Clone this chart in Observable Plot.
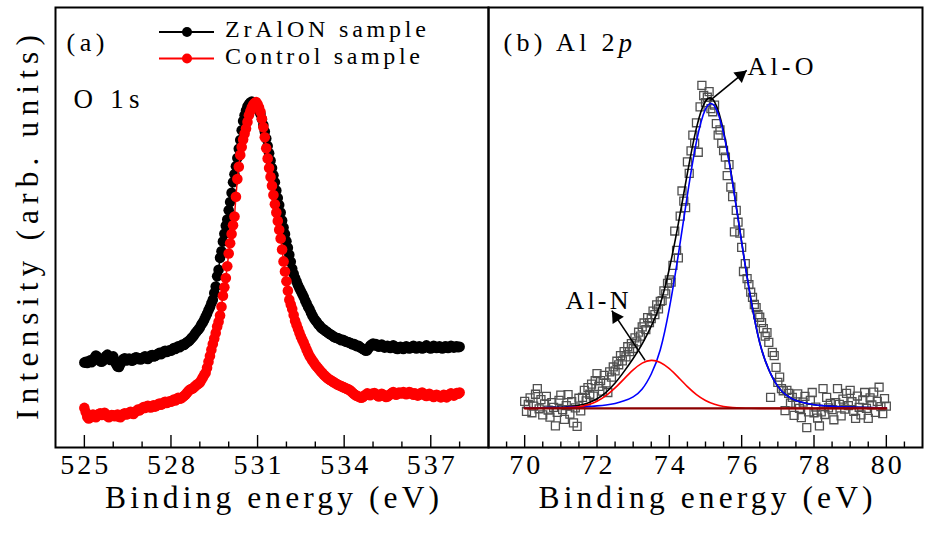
<!DOCTYPE html>
<html><head><meta charset="utf-8">
<script src="https://cdn.jsdelivr.net/npm/d3@7"></script>
<script src="https://cdn.jsdelivr.net/npm/@observablehq/plot@0.6"></script>
<style>
body{margin:0;background:#fff;}
#chart{position:relative;width:930px;height:534px;overflow:hidden;background:#fff;}
#chart svg{position:absolute;top:0;}
</style></head><body><div id="chart"></div>
<script>
// ---------- (a) O 1s ----------
const o1sStart = 525, o1sStep = 0.05;
const zrAlONSample = [
19.3,19.5,19.2,19.6,19.8,19.4,19.7,20.4,20.9,20.6,20.1,19.6,19.5,19.8,20.3,20.8,21.1,20.5,19.9,20.4,
20.7,19.6,18.9,18.4,18.3,19.0,19.7,20.1,20.3,19.8,19.9,20.2,20.0,19.7,19.9,20.4,20.5,20.1,20.3,20.0,
20.2,20.5,20.7,20.3,20.1,20.5,20.9,21.0,20.7,20.8,21.0,21.3,21.5,21.2,21.4,21.8,22.0,21.7,21.9,22.1,
22.0,22.3,22.6,22.4,22.7,23.0,22.8,23.1,23.4,23.3,23.6,23.9,24.1,24.4,24.8,25.1,25.5,26.0,26.4,26.8,
27.3,27.9,28.4,29.0,29.7,30.4,31.2,31.9,32.8,33.6,35.1,36.6,38.9,40.4,43.1,44.6,46.8,48.6,50.4,51.8,
53.9,55.8,57.9,60.3,62.1,63.9,65.8,67.9,69.9,72.1,74.2,75.5,76.6,77.5,78.0,78.4,78.6,78.3,78.0,77.6,
77.1,76.6,75.8,74.6,73.3,71.8,70.2,68.5,66.9,65.2,63.5,61.9,60.3,58.4,56.7,55.1,53.4,51.6,50.0,48.5,
46.9,45.4,43.8,42.2,40.6,39.5,38.5,37.7,36.9,36.2,35.5,34.9,34.2,33.4,32.7,32.0,31.4,30.7,30.0,29.4,
28.9,28.5,28.0,27.7,27.3,27.0,26.8,26.5,26.3,26.0,25.8,25.6,25.4,25.1,25.0,24.9,24.8,24.6,24.4,24.5,
24.3,24.1,24.0,23.9,23.8,23.6,23.4,23.5,23.2,23.0,23.1,22.8,22.6,22.4,22.2,22.0,22.1,22.6,23.1,23.4,
23.6,23.2,23.5,23.3,22.9,23.2,23.4,23.0,22.7,22.9,23.1,22.8,22.6,22.9,23.2,23.0,22.5,22.4,22.7,22.9,
22.6,22.4,22.7,23.0,22.8,22.5,22.6,22.9,23.1,22.7,22.5,22.8,23.0,22.7,22.5,22.6,22.9,23.2,22.9,22.6,
22.5,22.8,23.1,22.9,22.6,22.7,23.0,22.8,22.5,22.7,23.0,22.9,22.6,22.8,23.1,22.9,22.7,22.9,23.0,22.8,
22.9];
const controlSample = [
9.0,8.0,7.0,6.6,6.8,7.2,7.5,7.1,6.9,7.3,7.6,7.8,7.4,7.6,7.9,7.5,7.1,6.9,7.2,7.4,
7.3,7.1,7.2,7.5,7.0,6.9,7.3,7.6,7.8,7.5,7.6,7.9,8.1,7.8,7.6,8.0,8.3,8.6,8.4,8.7,
8.9,9.2,9.0,9.3,9.5,9.2,9.1,9.4,9.6,9.3,9.5,9.8,10.0,9.7,9.9,10.2,10.4,10.1,10.3,10.5,
10.4,10.6,10.9,10.7,11.0,11.3,11.1,11.2,11.4,11.7,12.0,12.4,12.8,13.1,13.3,13.4,13.7,14.0,14.3,14.5,
14.8,15.3,15.9,16.5,17.0,18.1,19.5,20.8,22.2,23.5,24.8,26.0,27.5,28.6,30.0,32.0,34.5,36.4,38.5,41.2,
44.1,46.4,48.5,50.5,52.5,57.0,61.0,63.8,66.5,68.3,70.0,71.3,72.5,74.0,75.5,76.4,77.3,77.9,78.3,78.5,
78.0,77.3,76.3,74.7,72.8,70.5,68.0,65.7,63.5,61.5,59.5,57.4,55.3,53.4,51.5,49.5,47.5,45.0,42.3,40.0,
37.8,35.6,33.6,32.5,31.5,30.1,28.8,27.9,27.0,26.1,25.2,24.5,23.8,23.0,22.2,21.5,20.8,20.3,19.8,19.3,
18.8,18.4,18.0,17.6,17.2,16.9,16.5,16.2,15.9,15.6,15.4,15.2,15.0,14.8,14.6,14.4,14.2,14.1,13.9,13.8,
13.6,13.5,13.3,13.2,13.0,12.7,12.4,12.1,11.9,11.7,11.6,11.4,11.3,11.5,11.8,12.0,12.3,12.1,11.9,12.2,
12.2,12.4,12.1,11.8,11.6,11.9,12.2,12.0,11.7,11.5,11.6,11.9,12.1,12.4,12.6,12.3,12.0,12.2,12.5,12.4,
12.3,12.6,12.4,12.1,12.3,12.6,12.5,12.2,12.0,12.3,12.1,11.8,12.0,12.3,12.5,12.2,11.9,11.7,12.0,12.2,
11.9,11.7,11.5,11.8,12.0,11.8,11.6,11.4,11.7,12.0,11.6,11.4,11.7,12.1,12.3,12.0,11.8,12.1,12.4,12.2,
12.5];
const o1sMajorTicks = [525, 528, 531, 534, 537];
const o1sMinorTicks = [526, 527, 529, 530, 532, 533, 535, 536, 538];
const legendItems = [{label: "ZrAlON sample", color: "#000000"}, {label: "Control sample", color: "#ff0000"}];

// ---------- (b) Al 2p ----------
const al2pStart = 70, al2pStep = 0.05;
const al2pMeasured = [
10.5,8.2,9.8,11.3,7.9,9.4,12.1,13.4,8.8,10.9,7.4,9.9,11.6,8.5,6.9,10.2,9.1,4.9,8.0,10.7,
11.9,8.6,6.4,9.5,12.0,7.6,10.4,5.6,9.0,4.8,11.2,8.3,11.4,13.0,10.6,13.6,12.1,14.4,11.7,15.2,
16.8,13.9,15.2,12.8,16.4,14.7,12.5,17.2,16.0,18.3,17.4,19.6,18.8,20.9,19.7,21.8,20.6,22.9,21.8,23.6,
22.5,24.9,24.0,26.2,25.3,27.4,28.3,26.8,29.5,28.4,29.3,31.0,30.2,32.4,31.5,33.2,33.4,35.6,34.9,37.3,
38.1,37.6,41.4,49.2,44.8,43.1,52.6,58.3,56.0,54.5,64.9,62.3,67.4,71.0,69.2,73.8,67.1,77.4,82.3,80.0,
78.4,79.6,80.9,77.0,76.3,77.8,73.6,71.0,72.2,69.1,67.5,66.0,61.8,64.3,59.2,57.0,49.0,53.9,51.2,48.7,
45.5,40.0,41.8,38.4,37.0,35.3,34.1,32.5,31.8,30.2,29.6,28.4,27.0,25.3,26.1,23.9,11.4,21.6,20.9,18.2,
14.8,16.0,13.4,12.9,8.4,13.0,12.3,10.1,11.4,7.3,9.8,12.2,8.9,6.8,10.3,11.6,4.5,8.1,10.7,12.5,
7.9,9.2,6.7,4.9,8.1,13.4,7.5,11.4,9.0,10.0,8.6,6.3,10.2,13.4,9.8,7.2,11.0,8.7,12.3,9.5,
13.0,10.4,8.2,6.6,11.7,9.1,7.4,10.8,12.5,8.9,6.6,11.3,9.7,12.6,8.0,10.5,13.7,9.3,7.7,11.1,
9.4];
const fitStart = 70, fitStep = 0.25;
const fitEnvelope = [9.0,9.02,9.05,9.09,9.16,9.33,9.61,10.13,11.08,12.55,14.64,17.3,20.23,23.57,27.6,32.64,40.62,50.93,62.35,72.64,78.7,78.53,71.83,60.28,46.67,33.92,23.8,17.7,13.9,11.8,10.7,10.1,9.7,9.5,9.35,9.25,9.18,9.12,9.08,9.05,9.02];
const fitAlO = [9.0,9.02,9.04,9.07,9.1,9.17,9.23,9.3,9.45,9.65,10.0,10.6,11.5,13.3,16.7,22.2,31.6,43.9,57.4,69.5,76.9,77.6,71.4,60.1,46.6,33.9,23.8,17.7,13.9,11.8,10.7,10.1,9.7,9.5,9.35,9.25,9.18,9.12,9.08,9.05,9.02];
const fitAlN = [8.9,8.9,8.91,8.92,8.96,9.06,9.28,9.73,10.53,11.8,13.54,15.6,17.63,19.17,19.8,19.34,17.92,15.93,13.85,12.04,10.7,9.83,9.33,9.08,8.97,8.92,8.9,8.9,8.9,8.9,8.9,8.9,8.9,8.9,8.9,8.9,8.9,8.9,8.9,8.9,8.9];
const backgroundEnergies = [70, 80];
const backgroundLevel = [8.9, 8.9];
const al2pMajorTicks = [70, 72, 74, 76, 78, 80];
const al2pMinorTicks = [69.5,70.5,71,71.5,72.5,73,73.5,74.5,75,75.5,76.5,77,77.5,78.5,79,79.5,80.5];
const peakArrows = [
  {label: "Al-O", x1: 75.13, y1: 78.9, x2: 76.14, y2: 85.7},
  {label: "Al-N", x1: 73.33, y1: 19.8, x2: 72.41, y2: 31.1}
];

const xTitle = "Binding energy (eV)";
const yTitle = "Intensity (arb. units)";

// ---------- style ----------
const FONT = "'Liberation Serif', 'Times New Roman', serif";
const textWidths = {
  "Binding energy (eV)": 334, "Intensity (arb. units)": 385,
  "525": 48, "528": 48, "531": 48, "534": 48, "537": 48,
  "70": 31, "72": 31, "74": 31, "76": 31, "78": 31, "80": 31,
  "(a)": 38, "O 1s": 66, "(b) Al 2": 111, "Al-O": 66, "Al-N": 63,
  "ZrAlON sample": 201, "Control sample": 195
};
const H = 534, MT = 7, MB = 87, PH = H - MT - MB;

const series = (start, step, values, extra = {}) =>
  values.map((v, i) => ({energy: +(start + i * step).toFixed(3), intensity: v, ...extra}));

const zrRows = series(o1sStart, o1sStep, zrAlONSample);
const ctrlRows = series(o1sStart, o1sStep, controlSample);
const measRows = series(al2pStart, al2pStep, al2pMeasured);
const envRows = series(fitStart, fitStep, fitEnvelope);
const aloRows = series(fitStart, fitStep, fitAlO);
const alnRows = series(fitStart, fitStep, fitAlN);
const bgRows = backgroundEnergies.map((e, i) => ({energy: e, intensity: backgroundLevel[i]}));

const tickMarks = (major, minor, labels) => [
  Plot.ruleX(major, {x: d => d, insetTop: PH - 12, stroke: "#000", strokeWidth: 1.4}),
  Plot.ruleX(minor, {x: d => d, insetTop: PH - 5.5, stroke: "#000", strokeWidth: 1.4}),
  Plot.axisX(labels, {tickSize: 0, tickPadding: 7, fontSize: 28, fontFamily: FONT, tickFormat: d => String(d), label: null})
];

const left = Plot.plot({
  width: 490, height: H, marginLeft: 55, marginRight: 2, marginTop: MT, marginBottom: MB,
  x: {domain: [524, 539], axis: null, label: null},
  y: {domain: [0, 100], axis: null, label: null},
  style: {fontFamily: FONT, background: "transparent", overflow: "visible", color: "#000"},
  marks: [
    Plot.line(zrRows, {x: "energy", y: "intensity", stroke: "#000", strokeWidth: 1.5}),
    Plot.dot(zrRows, {x: "energy", y: "intensity", r: 5.3, fill: "#000"}),
    Plot.line(ctrlRows, {x: "energy", y: "intensity", stroke: "#ff0000", strokeWidth: 1.5}),
    Plot.dot(ctrlRows, {x: "energy", y: "intensity", r: 5.3, fill: "#ff0000"}),
    ...tickMarks(o1sMajorTicks, o1sMinorTicks, o1sMajorTicks),
    Plot.frame({stroke: "#000", strokeWidth: 2}),
    Plot.text([xTitle], {text: d => d, frameAnchor: "bottom", dy: 60, fontSize: 31.5, fontFamily: FONT}),
    Plot.text([yTitle], {text: d => d, frameAnchor: "left", textAnchor: "middle", dx: -28, rotate: -90, fontSize: 31.5, fontFamily: FONT}),
    Plot.text(["(a)"], {text: d => d, frameAnchor: "top-left", textAnchor: "start", dx: 11, dy: 25, fontSize: 26, fontFamily: FONT}),
    Plot.text(["O 1s"], {text: d => d, frameAnchor: "top-left", textAnchor: "start", dx: 18, dy: 81, fontSize: 27, fontFamily: FONT})
  ]
});

const right = Plot.plot({
  width: 450, height: H, marginLeft: 8, marginRight: 8, marginTop: MT, marginBottom: MB,
  x: {domain: [69, 81], axis: null, label: null},
  y: {domain: [0, 100], axis: null, label: null},
  style: {fontFamily: FONT, background: "transparent", overflow: "visible", color: "#000"},
  marks: [
    Plot.dot(measRows, {x: "energy", y: "intensity", symbol: "square", r: 4.5, stroke: "#505050", strokeWidth: 1.3, fill: "none"}),
    Plot.line(envRows, {x: "energy", y: "intensity", curve: "natural", stroke: "#000", strokeWidth: 1.6}),
    Plot.line(aloRows, {x: "energy", y: "intensity", curve: "natural", stroke: "#0000ff", strokeWidth: 1.6}),
    Plot.line(alnRows, {x: "energy", y: "intensity", curve: "natural", stroke: "#ff0000", strokeWidth: 1.6}),
    Plot.line(bgRows, {x: "energy", y: "intensity", stroke: "#8b0000", strokeWidth: 2.2}),
    Plot.link(peakArrows, {x1: "x1", y1: "y1", x2: "x2", y2: "y2", stroke: "#000", strokeWidth: 1.6}),
    Plot.dot(peakArrows.slice(0, 1), {x: "x2", y: "y2", symbol: "triangle", r: 5, fill: "#000", rotate: 51, dx: -6.1, dy: 4.9}),
    Plot.dot(peakArrows.slice(1, 2), {x: "x2", y: "y2", symbol: "triangle", r: 5, fill: "#000", rotate: -33.4, dx: 4.3, dy: 6.5}),
    ...tickMarks(al2pMajorTicks, al2pMinorTicks, al2pMajorTicks),
    Plot.frame({stroke: "#000", strokeWidth: 2}),
    Plot.text([xTitle], {text: d => d, frameAnchor: "bottom", dy: 60, fontSize: 31.5, fontFamily: FONT}),
    Plot.text(["(b) Al 2"], {text: d => d, frameAnchor: "top-left", textAnchor: "start", dx: 15, dy: 25.5, fontSize: 26, fontFamily: FONT}),
    Plot.text(["p"], {text: d => d, frameAnchor: "top-left", textAnchor: "start", dx: 130, dy: 25.5, fontSize: 27, fontStyle: "italic", fontFamily: FONT}),
    Plot.text(["Al-O"], {text: d => d, frameAnchor: "top-left", textAnchor: "start", dx: 259, dy: 49, fontSize: 26, fontFamily: FONT}),
    Plot.text(["Al-N"], {text: d => d, frameAnchor: "top-left", textAnchor: "start", dx: 77, dy: 283.5, fontSize: 26, fontFamily: FONT})
  ]
});

// legend (inside panel a)
const lg = d3.select(left).append("g").attr("font-family", FONT).attr("font-size", 24).attr("text-anchor", "start");
legendItems.forEach((item, i) => {
  const y = 32 + i * 26.5;
  lg.append("line").attr("x1", 159).attr("x2", 214).attr("y1", y).attr("y2", y).attr("stroke", item.color).attr("stroke-width", 2);
  lg.append("circle").attr("cx", 187).attr("cy", y).attr("r", 5).attr("fill", item.color);
  lg.append("text").attr("x", 225).attr("y", y + 5).attr("fill", "#000").attr("text-anchor", "start").text(item.label);
});

for (const svg of [left, right]) {
  d3.select(svg).selectAll("text").each(function () {
    const w = textWidths[this.textContent];
    if (w) { this.setAttribute("textLength", w); this.setAttribute("lengthAdjust", "spacing"); }
  });
}

right.style.left = "480px";
left.style.left = "0px";
const chart = document.getElementById("chart");
chart.appendChild(left);
chart.appendChild(right);
</script>
</body></html>
